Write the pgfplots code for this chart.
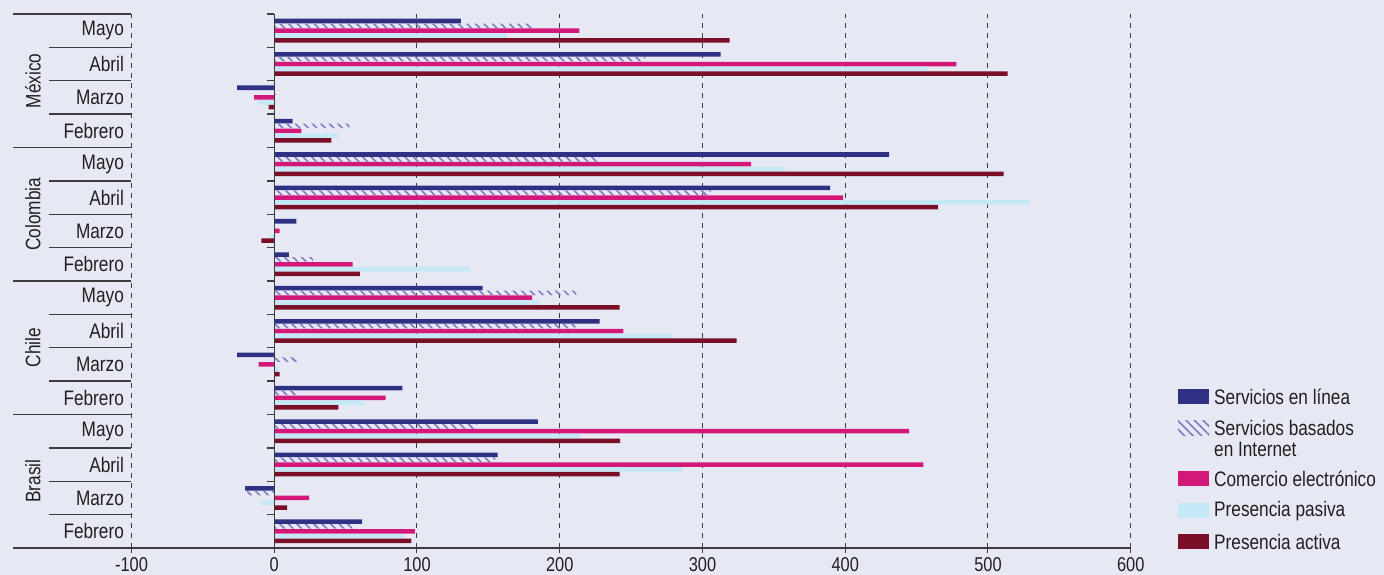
\documentclass[border=0pt]{standalone}
\usepackage{pgfplots}
\pgfplotsset{compat=1.18}
\usepackage{pgfplotstable}
\usetikzlibrary{patterns.meta}
\usepackage{fontspec}
\setmainfont{Liberation Sans}[FakeStretch=0.82]
\definecolor{bg}{RGB}{230,232,243}
\definecolor{cSel}{RGB}{46,49,132}
\definecolor{cSba}{RGB}{128,122,196}
\definecolor{cCom}{RGB}{212,24,122}
\definecolor{cPas}{RGB}{197,232,247}
\definecolor{cAct}{RGB}{122,15,39}
\definecolor{txt}{RGB}{35,31,32}
\definecolor{axc}{RGB}{60,60,60}

\pgfplotstableread{
y sel sba com pas act
0 61.6 55 98.6 90 96
1 -20.4 -19 24.4 -9 9
2 156.5 154.7 454.8 286 242
3 184.7 142 444.8 214 242.3
4 89.8 15 78 62.7 45
5 -26 16.7 -11 3 3.7
6 228 211 244.6 278 324
7 146 211.6 180.7 185.6 242
8 10.3 27 55 137 60
9 15.5 0 3.7 -2 -9
10 389.5 305.8 398.6 529 465
11 430.7 228 334 357.5 511
12 12.9 52.6 19 45 40
13 -26 3 -14 -11 -4
14 312.8 260 477.8 457.6 513.7
15 130.8 180.7 213.7 162.9 319
}\datatable

\begin{document}
\begin{tikzpicture}[x=1pt,y=1pt,font=\fontsize{21}{24}\selectfont,text=txt]
\fill[bg] (0,0) rectangle (1384,575);
\useasboundingbox (0,0) rectangle (1384,575);
\begin{axis}[
  at={(13pt,27pt)}, anchor=south west,
  scale only axis, width=1117.7pt, height=534pt,
  xmin=-183, xmax=600, ymin=-0.5, ymax=15.5,
  xbar, bar width=0.135,
  axis x line=bottom, axis y line=none,
  axis line style={-, draw=axc, line width=1.3pt},
  xtick={-100,0,100,200,300,400,500,600},
  xticklabels={-100,0,100,200,300,400,500,600},
  ytick=\empty,
  xmajorgrids,
  grid style={dash pattern=on 5pt off 5pt, draw=axc, line width=1pt},
  major tick length=5pt,
  tick style={draw=axc, line width=1pt},
  tick align=outside,
  xticklabel style={font=\fontsize{20}{22}\selectfont, text=txt, inner sep=0pt, anchor=north, yshift=-4pt},
  clip=false,
]
\addplot[draw=none, fill=cSel, bar shift=0.29] table[x=sel,y=y]{\datatable};
\addplot[draw=none, pattern={Lines[angle=-45,distance=6pt,line width=1.6pt]}, pattern color=cSba, bar shift=0.145] table[x=sba,y=y]{\datatable};
\addplot[draw=none, fill=cCom, bar shift=0] table[x=com,y=y]{\datatable};
\addplot[draw=none, fill=cPas, bar shift=-0.145] table[x=pas,y=y]{\datatable};
\addplot[draw=none, fill=cAct, bar shift=-0.29] table[x=act,y=y]{\datatable};

% y axis line at 0 and its ticks
\draw[draw=axc, line width=1.3pt] (axis cs:0,-0.5) -- (axis cs:0,15.5);
\pgfplotsinvokeforeach{-0.5,0.5,1.5,2.5,3.5,4.5,5.5,6.5,7.5,8.5,9.5,10.5,11.5,12.5,13.5,14.5,15.5}{
  \draw[draw=axc, line width=1.3pt] (axis cs:0,#1) -- (axis cs:-5,#1);
}
% separators on the left
\pgfplotsinvokeforeach{0.5,1.5,2.5,4.5,5.5,6.5,8.5,9.5,10.5,12.5,13.5,14.5}{
  \draw[draw=axc, line width=1.3pt] (axis cs:-157.5,#1) -- (axis cs:-100,#1);
}
\pgfplotsinvokeforeach{3.5,7.5,11.5,15.5}{
  \draw[draw=axc, line width=1.3pt] (axis cs:-183,#1) -- (axis cs:-100,#1);
}
% month labels
\node[anchor=east,inner sep=0pt] at (axis cs:-105.2,0) {Febrero};
\node[anchor=east,inner sep=0pt] at (axis cs:-105.2,1) {Marzo};
\node[anchor=east,inner sep=0pt] at (axis cs:-105.2,2) {Abril};
\node[anchor=east,inner sep=0pt] at (axis cs:-105.2,3) {Mayo};
\node[anchor=east,inner sep=0pt] at (axis cs:-105.2,4) {Febrero};
\node[anchor=east,inner sep=0pt] at (axis cs:-105.2,5) {Marzo};
\node[anchor=east,inner sep=0pt] at (axis cs:-105.2,6) {Abril};
\node[anchor=east,inner sep=0pt] at (axis cs:-105.2,7) {Mayo};
\node[anchor=east,inner sep=0pt] at (axis cs:-105.2,8) {Febrero};
\node[anchor=east,inner sep=0pt] at (axis cs:-105.2,9) {Marzo};
\node[anchor=east,inner sep=0pt] at (axis cs:-105.2,10) {Abril};
\node[anchor=east,inner sep=0pt] at (axis cs:-105.2,11) {Mayo};
\node[anchor=east,inner sep=0pt] at (axis cs:-105.2,12) {Febrero};
\node[anchor=east,inner sep=0pt] at (axis cs:-105.2,13) {Marzo};
\node[anchor=east,inner sep=0pt] at (axis cs:-105.2,14) {Abril};
\node[anchor=east,inner sep=0pt] at (axis cs:-105.2,15) {Mayo};
% country labels
\node[rotate=90,inner sep=0pt] at (axis cs:-169,1.5) {Brasil};
\node[rotate=90,inner sep=0pt] at (axis cs:-169,5.5) {Chile};
\node[rotate=90,inner sep=0pt] at (axis cs:-169,9.5) {Colombia};
\node[rotate=90,inner sep=0pt] at (axis cs:-169,13.5) {México};
\end{axis}
% legend
\fill[cSel] (1178,170.5) rectangle (1209,185.5);
\node[anchor=west,inner sep=0pt] at (1214,178) {Servicios en línea};
\fill[pattern={Lines[angle=-45,distance=6pt,line width=1.6pt]}, pattern color=cSba] (1178,139.5) rectangle (1209,154.5);
\node[anchor=west,inner sep=0pt] at (1214,147) {Servicios basados};
\node[anchor=west,inner sep=0pt] at (1214,126) {en Internet};
\fill[cCom] (1178,88.5) rectangle (1209,103.5);
\node[anchor=west,inner sep=0pt] at (1214,96) {Comercio electrónico};
\fill[cPas] (1178,56.5) rectangle (1209,71.5);
\node[anchor=west,inner sep=0pt] at (1214,64) {Presencia pasiva};
\fill[cAct] (1178,25.5) rectangle (1209,40.5);
\node[anchor=west,inner sep=0pt] at (1214,33) {Presencia activa};
\end{tikzpicture}
\end{document}
